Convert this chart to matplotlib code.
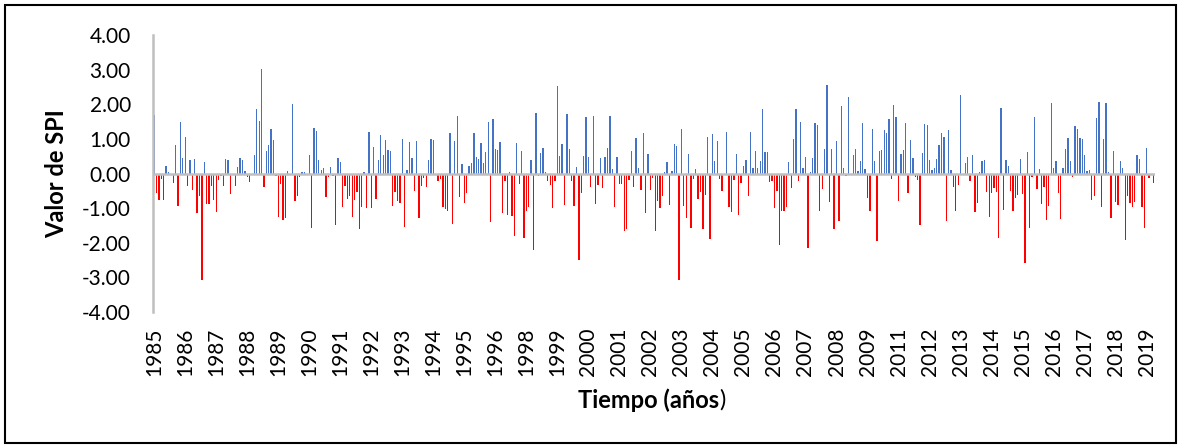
import matplotlib
matplotlib.use("Agg")
import matplotlib.pyplot as plt
from matplotlib.patches import Rectangle
import numpy as np

# Monthly SPI values, Jan 1985 - Dec 2019 (12 per row)
spi = [
    1.69, -0.57, -0.77, -0.15, -0.77, 0.23, 0.04, 0.00, -0.28, 0.82, -0.93, 1.48,
    0.46, 1.05, -0.36, 0.39, -0.47, 0.43, -1.14, -0.65, -3.07, 0.33, -0.88, -0.88,
    -0.36, -0.77, -1.11, -0.18, -0.07, -0.36, 0.42, 0.39, -0.59, 0.00, -0.36, 0.19,
    0.45, 0.39, 0.07, -0.10, -0.24, 0.00, 0.52, 1.87, 1.51, 3.02, -0.39, 0.64,
    0.82, 1.28, 0.96, -0.07, -1.25, -0.30, -1.34, -1.28, 0.07, 0.00, 2.00, -0.79,
    -0.65, -0.10, 0.03, 0.03, 0.00, 0.53, -1.57, 1.30, 1.24, 0.40, 0.09, 0.16,
    -0.67, -0.10, 0.18, -0.07, -1.48, 0.44, 0.34, -0.96, -0.36, -0.73, -0.65, -1.25,
    -0.76, -0.53, -1.60, -0.96, 0.03, -0.99, 1.19, -0.99, 0.76, -0.73, 0.38, 1.11,
    0.53, 0.96, 0.67, 0.65, -0.93, -0.53, -0.79, -0.85, 0.99, -1.54, 0.10, 0.91,
    0.44, -0.50, 0.93, -1.28, -0.36, -0.13, -0.39, 0.39, 1.01, 0.97, -0.05, -0.21,
    -0.15, -0.96, -1.02, -1.08, 1.17, -1.45, 0.93, 1.67, -0.67, 0.26, -0.85, -0.56,
    0.21, 0.29, 1.17, 0.47, 0.43, 0.88, 0.29, 0.61, 1.48, -1.40, 1.57, 0.70,
    0.69, 0.92, -1.14, -0.21, -1.19, 0.04, -1.22, -1.80, 0.88, -0.30, 0.66, -1.86,
    -1.08, -0.96, 0.40, -2.21, 1.74, -0.07, 0.58, 0.73, 0.04, -0.21, -0.33, -0.99,
    -0.21, 2.52, 0.50, 0.85, -0.91, 1.73, 0.70, -0.21, -0.93, 0.19, -2.50, -0.56,
    0.51, 1.62, 0.48, -0.39, 1.67, -0.88, -0.33, 0.45, -0.41, 0.48, 0.73, 1.66,
    0.12, -0.96, 0.47, -0.30, -0.30, -1.66, -1.60, -0.18, 0.64, -0.39, 1.02, 0.15,
    -0.47, 1.18, -1.14, 0.56, -0.47, -0.13, -1.66, -0.79, -0.99, -0.65, 0.04, 0.32,
    -0.91, 0.07, 0.84, 0.80, -3.07, 1.28, -0.93, -1.28, 0.55, -1.57, -0.15, 0.13,
    -0.73, -0.53, -1.60, -0.62, 1.04, -1.89, 1.14, 0.37, 0.94, -0.15, -0.50, -0.04,
    1.21, -0.96, -1.11, -0.18, 0.56, -1.19, -0.27, 0.21, 0.40, -0.65, 1.21, 0.17,
    0.65, 0.16, 0.36, 1.85, 0.62, 0.61, -0.24, -0.21, -0.99, -0.50, -2.06, -1.08,
    -1.08, -0.96, 0.32, -0.41, 1.01, 1.87, -0.21, 1.50, 0.15, 0.47, -2.15, 0.03,
    0.44, 1.47, 1.41, -1.08, -0.44, 0.70, 2.55, -0.82, 0.70, -1.60, 0.93, -1.37,
    1.95, 0.16, -0.07, 2.20, -0.03, 0.53, 0.70, 0.07, 0.36, 1.45, 0.12, -0.70,
    -1.08, 1.28, 0.36, -1.95, 0.65, 0.67, 1.27, 1.17, 1.57, -0.15, 1.98, 1.63,
    -0.79, 0.57, 0.67, 1.45, -0.56, 0.98, 0.44, -0.10, -0.18, -1.48, 0.58, 1.44,
    1.39, 0.39, 0.09, 0.16, 0.41, 0.83, 1.17, 1.06, -1.37, 1.25, 0.10, -0.39,
    -1.08, -0.33, 2.26, 0.00, 0.29, 0.48, -0.21, 0.52, -1.11, -0.85, 0.03, 0.36,
    0.40, -0.53, -1.25, -0.56, -0.41, -0.53, -1.86, 1.88, -1.05, 0.40, 0.21, -0.50,
    -1.08, -0.70, -0.62, 0.43, -0.59, -2.58, 0.62, -1.57, -0.10, 1.64, -0.44, 0.12,
    -0.88, -0.39, -1.34, -0.93, 2.04, 0.15, 0.35, -0.56, -1.31, 0.17, 0.72, 1.02,
    0.36, -0.10, 1.36, 1.28, 1.03, 1.01, 0.53, 0.07, 0.11, -0.76, -0.65, 1.61,
    2.06, -0.96, 1.01, 2.03, 0.04, -1.28, 0.65, -0.82, -0.91, 0.36, 0.15, -1.92,
    -0.65, -0.85, -0.96, -0.82, 0.52, 0.42, -0.96, -1.57, 0.75, -0.13, 0.00, -0.27,
]

# Category-axis labels shown every 13th month
year_labels = ["1985", "1986", "1987", "1988", "1989", "1990", "1991", "1992",
               "1993", "1994", "1995", "1996", "1998", "1999", "2000", "2001",
               "2002", "2003", "2004", "2005", "2006", "2007", "2008", "2009",
               "2011", "2012", "2013", "2014", "2015", "2016", "2017", "2018",
               "2019"]
label_step = 13

y_ticks = [-4, -3, -2, -1, 0, 1, 2, 3, 4]

plt.rcParams['font.family'] = ['Lato', 'DejaVu Sans']

W, H = 1181, 448
fig = plt.figure(figsize=(W / 100, H / 100), dpi=100)
ax = fig.add_axes([153 / W, 1 - 312 / H, (1155 - 153) / W, (312 - 35) / H])

vals = np.array(spi)
x = np.arange(len(vals))
colors = np.where(vals >= 0, '#4472C4', '#FF0000')
ax.bar(x, vals, width=0.55, color=colors, linewidth=0, zorder=2)

ax.set_xlim(-0.5, len(vals) - 0.5)
ax.set_ylim(-4, 4)
ax.set_yticks(y_ticks)
ax.set_yticklabels([f"{v:.2f}" for v in y_ticks], fontsize=15)
ax.set_xticks(np.arange(len(year_labels)) * label_step)
ax.set_xticklabels(year_labels, rotation=90, fontsize=15)
ax.tick_params(axis='both', length=0, colors='black')
ax.tick_params(axis='y', pad=16)
ax.tick_params(axis='x', pad=11)

for s in ['top', 'right', 'bottom']:
    ax.spines[s].set_visible(False)
ax.spines['left'].set_color('#BFBFBF')
ax.spines['left'].set_linewidth(1.8)
ax.axhline(0, color='#BFBFBF', linewidth=1.8, zorder=3)

fig.text(57 / W, 1 - 174 / H, "Valor de SPI", rotation=90, fontsize=17,
         fontweight='bold', ha='center', va='center')

t1 = fig.text(0, 1 - 400 / H, "Tiempo (años", fontsize=17, fontweight='bold',
              ha='left', va='center')
t2 = fig.text(0, 1 - 400 / H, ")", fontsize=17, ha='left', va='center')
fig.canvas.draw()
r = fig.canvas.get_renderer()
w1 = t1.get_window_extent(r).width
w2 = t2.get_window_extent(r).width
start = 652 - (w1 + w2) / 2
t1.set_x(start / W)
t2.set_x((start + w1) / W)

fig.patches.append(Rectangle((5 / W, 5 / H), (1176 - 5) / W, (443 - 5) / H,
                             transform=fig.transFigure, fill=False,
                             edgecolor='black', linewidth=1.5))

fig.savefig("out.png", dpi=100)
